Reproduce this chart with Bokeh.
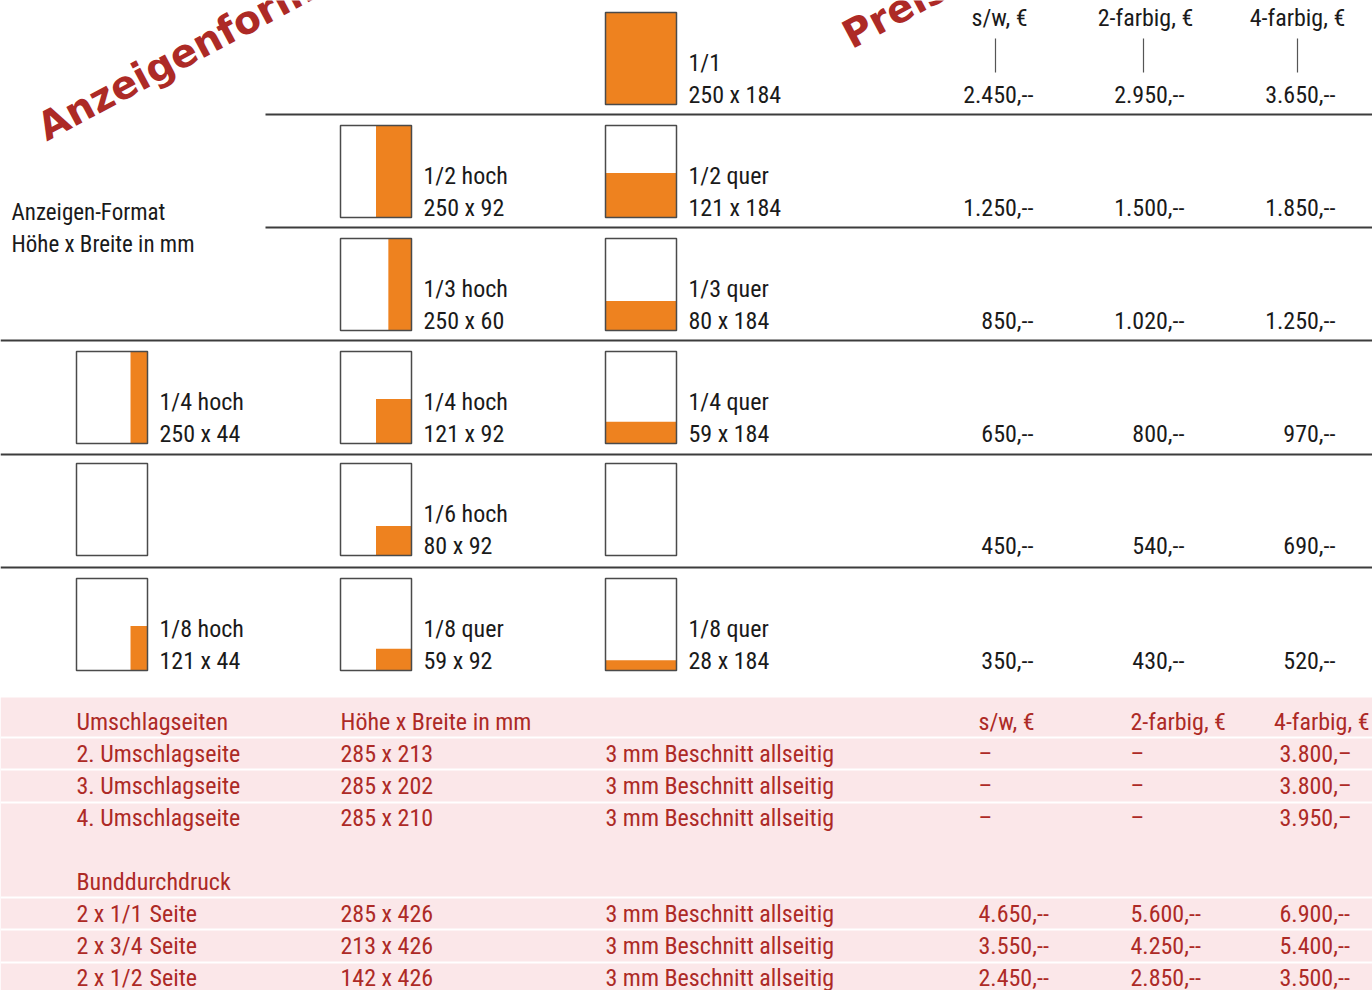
from bokeh.plotting import figure
from bokeh.models import Range1d, ColumnDataSource
from bokeh.embed import file_html
from bokeh.resources import INLINE
from bokeh.core.properties import value

# ---------------- data ----------------
page_height_mm = 250
page_width_mm = 184

format_names = ["1/1", "1/2 hoch", "1/2 quer", "1/3 hoch", "1/3 quer",
                "1/4 hoch", "1/4 hoch", "1/4 quer", "1/6 hoch",
                "1/8 hoch", "1/8 quer", "1/8 quer"]
format_heights = [250, 250, 121, 250, 80, 250, 121, 59, 80, 121, 59, 28]
format_widths = [184, 92, 184, 60, 184, 44, 92, 184, 92, 44, 92, 184]
format_rows = [0, 1, 1, 2, 2, 3, 3, 3, 4, 5, 5, 5]
format_cols = [2, 1, 2, 1, 2, 0, 1, 2, 1, 0, 1, 2]
empty_rows = [4, 4]
empty_cols = [0, 2]

price_headers = ["s/w, €", "2-farbig, €", "4-farbig, €"]
price_sw = [2450, 1250, 850, 650, 450, 350]
price_2f = [2950, 1500, 1020, 800, 540, 430]
price_4f = [3650, 1850, 1250, 970, 690, 520]

cover_title = "Umschlagseiten"
cover_size_header = "Höhe x Breite in mm"
cover_labels = ["2. Umschlagseite", "3. Umschlagseite", "4. Umschlagseite"]
cover_sizes = ["285 x 213", "285 x 202", "285 x 210"]
cover_notes = ["3 mm Beschnitt allseitig"] * 3
cover_sw = ["–", "–", "–"]
cover_2f = ["–", "–", "–"]
cover_4f = ["3.800,–", "3.800,–", "3.950,–"]

spread_title = "Bunddurchdruck"
spread_labels = ["2 x 1/1", "2 x 3/4", "2 x 1/2"]
spread_unit = "Seite"
spread_sizes = ["285 x 426", "213 x 426", "142 x 426"]
spread_notes = ["3 mm Beschnitt allseitig"] * 3
spread_sw = [4650, 3550, 2450]
spread_2f = [5600, 4250, 2850]
spread_4f = [6900, 5400, 3500]

# ---------------- layout / style ----------------
FONT = value("'Roboto Condensed', 'DejaVu Sans Condensed', 'Liberation Sans Narrow', Roboto")
FS = "24px"
BLACK = "#1a1a1a"
RED = "#ad2a26"
ORANGE = "#ee821f"
PINK = "#fbe7e9"
LINE = "#3c3c3c"
TY = -10  # baseline correction

col_x = [76, 340, 605]
row_top = [12, 125, 238, 351, 463, 578]
BOX_W, BOX_H = 71, 92


def euro(v):
    return f"{v:,}".replace(",", ".") + ",--"


p = figure(width=1372, height=990, x_range=Range1d(0, 1372), y_range=Range1d(990, 0),
           output_backend="svg", toolbar_location=None, min_border=0,
           background_fill_color="white", border_fill_color="white")
p.axis.visible = False
p.xgrid.visible = False
p.ygrid.visible = False
p.outline_line_color = None

# separator lines (top part)
p.segment(x0=[265, 265, 0, 0, 0], x1=[1372] * 5, y0=[114, 227, 340, 454, 567],
          y1=[114, 227, 340, 454, 567], line_color=LINE, line_width=2)

# page boxes
all_rows = format_rows + empty_rows
all_cols = format_cols + empty_cols
bl = [col_x[c] for c in all_cols]
bt = [row_top[r] for r in all_rows]
box_src = ColumnDataSource(dict(left=bl, right=[x + BOX_W for x in bl],
                                top=bt, bottom=[y + BOX_H for y in bt]))
p.quad(left="left", right="right", top="top", bottom="bottom", source=box_src,
       fill_color="white", line_color=None)

fl, fr, ft, fb = [], [], [], []
for h, w, r, c in zip(format_heights, format_widths, format_rows, format_cols):
    x0 = col_x[c]
    y1 = row_top[r] + BOX_H
    fl.append(x0 + BOX_W * (1 - w / page_width_mm))
    fr.append(x0 + BOX_W)
    fb.append(y1)
    ft.append(y1 - BOX_H * h / page_height_mm)
p.quad(left=fl, right=fr, top=ft, bottom=fb, fill_color=ORANGE, line_color=None)
p.quad(left="left", right="right", top="top", bottom="bottom", source=box_src,
       fill_color=None, line_color="#4a4a4a", line_width=1.5)

# format labels
lx, ly, lt = [], [], []
for name, h, w, r, c in zip(format_names, format_heights, format_widths, format_rows, format_cols):
    x = col_x[c] + 83
    yb = row_top[r] + BOX_H + TY
    lx += [x, x]
    ly += [yb - 32, yb]
    lt += [name, f"{h} x {w}"]
p.text(x=lx, y=ly, text=lt, text_font=FONT, text_font_size=FS, text_color=BLACK,
       text_baseline="alphabetic", text_align="left")

# left description
p.text(x=[11, 11], y=[222 + TY, 254 + TY], text=["Anzeigen-Format", "Höhe x Breite in mm"],
       text_font=FONT, text_font_size="23px", text_color=BLACK, text_baseline="alphabetic")

# price headers
p.text(x=[999, 1145, 1297], y=[27 + TY] * 3, text=price_headers, text_font=FONT, text_font_size=FS,
       text_color=BLACK, text_align="center", text_baseline="alphabetic")
p.segment(x0=[995, 1143, 1297], x1=[995, 1143, 1297], y0=[38] * 3, y1=[72] * 3,
          line_color="#555555", line_width=1.2)

# prices
py = [t + BOX_H + TY for t in row_top]
for vals, xr in zip([price_sw, price_2f, price_4f], [1033, 1184, 1335]):
    p.text(x=[xr] * len(vals), y=py, text=[euro(v) for v in vals], text_font=FONT,
           text_font_size=FS, text_color=BLACK, text_align="right", text_baseline="alphabetic")

# rotated titles
p.text(x=[40, 845], y=[139 + TY, 47 + TY], text=["Anzeigenformate", "Preise"], angle=28,
       angle_units="deg", text_font=value("DejaVu Sans"), text_font_style="bold",
       text_font_size="39px", text_color=RED, text_baseline="alphabetic")

# pink section
p.quad(left=[0], right=[1372], top=[697], bottom=[995], fill_color=PINK, line_color=None)
p.segment(x0=[0] * 6, x1=[1372] * 6, y0=[737, 769, 802, 897, 929, 962],
          y1=[737, 769, 802, 897, 929, 962], line_color="white", line_width=2)

pc = [76, 340, 605, 978, 1130, 1279]
rows_y_cov = [763 + TY, 795 + TY, 827 + TY]
rows_y_spr = [923 + TY, 955 + TY, 987 + TY]
hx = [pc[0], pc[1], pc[3], pc[4]]
ht = [cover_title, cover_size_header] + price_headers[:2]
p.text(x=hx, y=[731 + TY] * 4, text=ht, text_font=FONT, text_font_size=FS, text_color=RED,
       text_baseline="alphabetic")
p.text(x=[1369], y=[731 + TY], text=[price_headers[2]], text_font=FONT, text_font_size=FS,
       text_color=RED, text_baseline="alphabetic", text_align="right")
p.text(x=[pc[0]], y=[891 + TY], text=[spread_title], text_font=FONT, text_font_size=FS,
       text_color=RED, text_baseline="alphabetic")

for col, x in zip([cover_labels, cover_sizes, cover_notes, cover_sw, cover_2f, cover_4f], pc):
    p.text(x=[x] * 3, y=rows_y_cov, text=col, text_font=FONT, text_font_size=FS,
           text_color=RED, text_baseline="alphabetic")

spread_cols = [spread_labels, spread_sizes, spread_notes,
               [euro(v) for v in spread_sw], [euro(v) for v in spread_2f], [euro(v) for v in spread_4f]]
for col, x in zip(spread_cols, pc):
    p.text(x=[x] * 3, y=rows_y_spr, text=col, text_font=FONT, text_font_size=FS,
           text_color=RED, text_baseline="alphabetic")
p.text(x=[149] * 3, y=rows_y_spr, text=[spread_unit] * 3, text_font=FONT, text_font_size=FS,
       text_color=RED, text_baseline="alphabetic")

open("out.html", "w").write(file_html(p, INLINE))
